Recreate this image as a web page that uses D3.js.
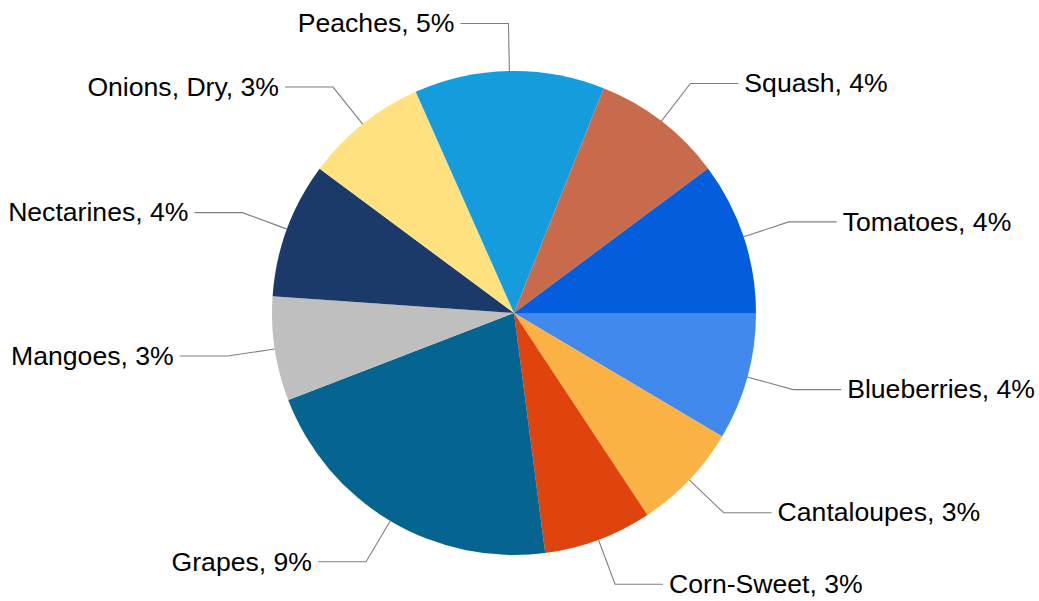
<!DOCTYPE html>
<html>
<head>
<meta charset="utf-8">
<script src="https://cdn.jsdelivr.net/npm/d3@7"></script>
<style>
  html, body { margin: 0; padding: 0; background: #ffffff; }
  svg { display: block; }
</style>
</head>
<body>
<div id="chart"></div>
<script>
// Data (share of a larger total, in %)
const categories = ["Blueberries", "Cantaloupes", "Corn-Sweet", "Grapes", "Mangoes",
                    "Nectarines", "Onions, Dry", "Peaches", "Squash", "Tomatoes"];
const values = [3.57, 3.01, 3.03, 8.88, 2.92, 3.79, 3.43, 5.32, 3.67, 4.27];
const colors = ["#4189ED", "#FBB244", "#E0440E", "#066491", "#BFBFBF",
                "#1C3A69", "#FFE17F", "#149CDD", "#C86B4D", "#035DDC"];

const W = 1039, H = 601;
const cx = 514, cy = 313, R = 242, Relbow = 289.5, hLen = 48, gap = 6;

const svg = d3.select("#chart").append("svg")
  .attr("width", W).attr("height", H);

const data = categories.map((c, i) => ({ name: c, value: values[i], color: colors[i] }));

const pie = d3.pie().value(d => d.value).sort(null)
  .startAngle(Math.PI / 2).endAngle(Math.PI / 2 + 2 * Math.PI);
const arcs = pie(data);

const arc = d3.arc().innerRadius(0).outerRadius(R);

const g = svg.append("g").attr("transform", `translate(${cx},${cy})`);

g.selectAll("path.slice").data(arcs).enter().append("path")
  .attr("class", "slice")
  .attr("d", arc)
  .attr("fill", d => d.data.color);

const pt = (a, r) => [Math.sin(a) * r, -Math.cos(a) * r];

arcs.forEach(d => {
  const a = (d.startAngle + d.endAngle) / 2;
  const p0 = pt(a, R);
  const p1 = pt(a, Relbow);
  const right = Math.sin(a) >= 0;
  const p2 = [p1[0] + (right ? hLen : -hLen), p1[1]];
  g.append("polyline")
    .attr("points", [p0, p1, p2].map(p => p.join(",")).join(" "))
    .attr("fill", "none")
    .attr("stroke", "#7f7f7f")
    .attr("stroke-width", 1.1);
  g.append("text")
    .attr("x", p2[0] + (right ? gap : -gap))
    .attr("y", p2[1])
    .attr("dy", "0.33em")
    .attr("text-anchor", right ? "start" : "end")
    .attr("font-family", "'Liberation Sans', Arial, sans-serif")
    .attr("font-size", 26.6)
    .attr("fill", "#000")
    .text(`${d.data.name}, ${Math.round(d.data.value)}%`);
});
</script>
</body>
</html>
